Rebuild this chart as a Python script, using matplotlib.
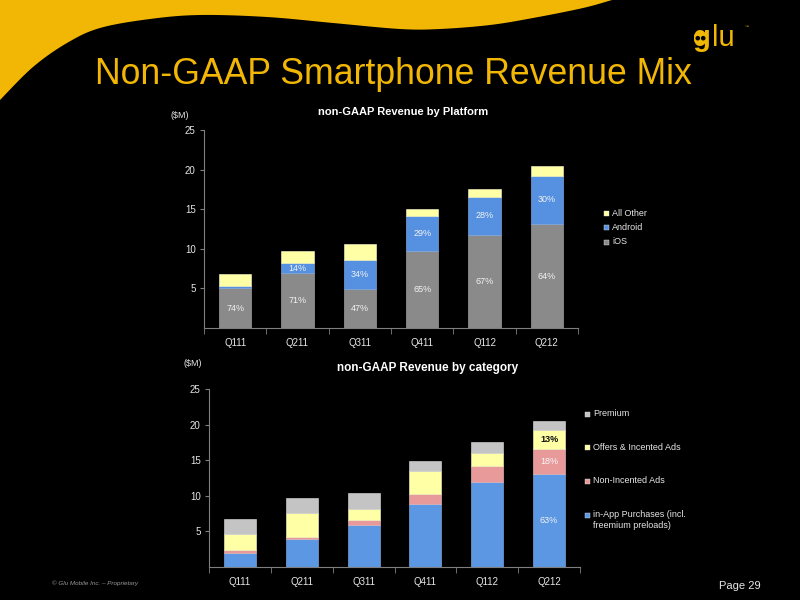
import numpy as np
import matplotlib
matplotlib.use("Agg")
import matplotlib.pyplot as plt
from matplotlib.patches import Rectangle, Polygon, Circle, FancyBboxPatch

plt.rcParams['font.family'] = ['Liberation Sans', 'DejaVu Sans']

# ---------------- data ----------------
quarters = ["Q111", "Q211", "Q311", "Q411", "Q112", "Q212"]

# Platform chart ($M)
ios = [5.0, 6.9, 4.95, 9.75, 11.7, 13.1]
android = [0.3, 1.35, 3.6, 4.35, 4.9, 6.15]
all_other = [1.5, 1.45, 2.05, 0.9, 0.9, 1.25]
ios_pct = ["74%", "71%", "47%", "65%", "67%", "64%"]
android_pct = ["", "14%", "34%", "29%", "28%", "30%"]

# Category chart ($M)
in_app = [2.0, 4.0, 5.95, 8.85, 11.9, 13.0]
non_incented = [0.35, 0.15, 0.65, 1.4, 2.3, 3.6]
offers = [2.35, 3.5, 1.55, 3.2, 1.75, 2.65]
premium = [2.0, 2.0, 2.3, 1.5, 1.55, 1.25]
in_app_pct = ["", "", "", "", "", "63%"]
non_inc_pct = ["", "", "", "", "", "18%"]
offers_pct = ["", "", "", "", "", "13%"]

yticks = [5, 10, 15, 20, 25]

# ---------------- style ----------------
YEL = "#F2B705"
C_IOS = "#8A8A8A"
C_AND = "#5591E0"
C_OTH = "#FFFFA6"
C_IAP = "#5B97E2"
C_NON = "#E89A9A"
C_OFF = "#FFFFA6"
C_PRE = "#C4C4C4"
AXC = "#7F7F7F"
TXT = "#E6E6E6"

W, H = 800, 600
fig = plt.figure(figsize=(8, 6), dpi=100, facecolor="black")

# background swoosh
bg = fig.add_axes([0, 0, 1, 1])
bg.set_xlim(0, W)
bg.set_ylim(H, 0)
bg.axis("off")
bg.set_facecolor("black")
pts = np.array([(0, 100), (33, 67), (67, 43), (100, 28), (150, 19), (200, 15),
                (267, 17), (333, 23), (400, 29), (440, 29), (490, 25), (533, 18),
                (583, 8), (612, 0)], float)
# Catmull-Rom smoothing of boundary
def catmull(p, n=12):
    out = []
    P = np.vstack([p[0], p, p[-1]])
    for i in range(1, len(P) - 2):
        p0, p1, p2, p3 = P[i - 1], P[i], P[i + 1], P[i + 2]
        for t in np.linspace(0, 1, n, endpoint=False):
            t2, t3 = t * t, t * t * t
            out.append(0.5 * ((2 * p1) + (-p0 + p2) * t + (2 * p0 - 5 * p1 + 4 * p2 - p3) * t2
                              + (-p0 + 3 * p1 - 3 * p2 + p3) * t3))
    out.append(p[-1])
    return np.array(out)
curve = catmull(pts)
poly = np.vstack([[(0, 0)], curve, [(612, 0)]])
bg.add_patch(Polygon(poly, closed=True, facecolor=YEL, edgecolor="none"))

# title
bg.text(393, 84, "Non-GAAP Smartphone Revenue Mix", color=YEL, fontsize=25.7,
        ha="center", va="baseline")

# logo
bg.text(693, 46, "g", color=YEL, fontsize=21, fontweight="bold", ha="left",
        va="baseline")
bg.text(712, 46, "lu", color=YEL, fontsize=21, ha="left", va="baseline")
bg.add_patch(FancyBboxPatch((694, 32), 13, 12, boxstyle="round,pad=0,rounding_size=5",
                            facecolor=YEL, edgecolor="none", zorder=5))
bg.add_patch(Circle((697.8, 38.2), 1.6, color="black", zorder=6))
bg.add_patch(Circle((703.2, 38.2), 1.6, color="black", zorder=6))
bg.text(745, 27, "\u2122", color=YEL, fontsize=3, ha="left", va="center")

# footer
bg.text(52, 583, "\u00a9 Glu Mobile Inc. \u2013 Proprietary", color="#9A9A9A",
        fontsize=4.5, style="italic", va="center", ha="left")
bg.text(740, 586, "Page 29", color=TXT, fontsize=8, va="center", ha="center")


def style_axis(ax):
    ax.set_facecolor("none")
    for s in ["top", "right"]:
        ax.spines[s].set_visible(False)
    for s in ["left", "bottom"]:
        ax.spines[s].set_color(AXC)
        ax.spines[s].set_linewidth(0.8)
    ax.set_ylim(0, 25)
    ax.set_xlim(-0.5, len(quarters) - 0.5)
    ax.set_yticks(yticks)
    ax.set_yticklabels([str(v) for v in yticks])
    ax.set_xticks(range(len(quarters)))
    ax.set_xticklabels(quarters)
    ax.set_xticks(np.arange(-0.5, len(quarters), 1.0), minor=True)
    ax.tick_params(axis="x", which="major", length=0, pad=7, labelsize=7, labelcolor=TXT)
    ax.tick_params(axis="x", which="minor", length=4, direction="out", color=AXC)
    ax.tick_params(axis="y", length=3, direction="out", color=AXC, labelsize=7,
                   labelcolor=TXT, pad=3)


def seg_labels(ax, bottoms, heights, labels, color, weight="normal"):
    for i, (b, h, l) in enumerate(zip(bottoms, heights, labels)):
        if l:
            ax.text(i, b + h / 2, l, ha="center", va="center", fontsize=6.5,
                    color=color, fontweight=weight)


x = np.arange(len(quarters))
bw = 0.52

# ---------- top chart ----------
ax1 = fig.add_axes([204 / W, 1 - 328 / H, 374 / W, 198 / H])
style_axis(ax1)
b0 = np.zeros(len(quarters))
ax1.bar(x, ios, bw, bottom=b0, color=C_IOS, edgecolor="#B0B0B0", linewidth=0.4)
b1 = b0 + np.array(ios)
ax1.bar(x, android, bw, bottom=b1, color=C_AND, edgecolor="#8DB8F0", linewidth=0.4)
b2 = b1 + np.array(android)
ax1.bar(x, all_other, bw, bottom=b2, color=C_OTH, edgecolor="#FFFFD0", linewidth=0.4)
seg_labels(ax1, b0, ios, ios_pct, "#F2F2F2")
seg_labels(ax1, b1, android, android_pct, "#F2F2F2")

fig.text(403 / W, 1 - 112 / H, "non-GAAP Revenue by Platform", color="white",
         fontsize=8, fontweight="bold", ha="center", va="center")
fig.text(180 / W, 1 - 115 / H, "($M)", color=TXT, fontsize=6.5, ha="center", va="center")

# top legend (manual)
leg1 = [("All Other", C_OTH), ("Android", C_AND), ("iOS", C_IOS)]
for k, (lab, col) in enumerate(leg1):
    yy = 213 + k * 14.5
    bg.add_patch(Rectangle((604, yy - 2.5), 5, 5, facecolor=col, edgecolor="#DDDDDD",
                           linewidth=0.3))
    bg.text(612, yy, lab, color=TXT, fontsize=6.5, va="center", ha="left")

# ---------- bottom chart ----------
ax2 = fig.add_axes([209 / W, 1 - 567 / H, 371 / W, 178 / H])
style_axis(ax2)
c0 = np.zeros(len(quarters))
ax2.bar(x, in_app, bw, bottom=c0, color=C_IAP, edgecolor="#8DB8F0", linewidth=0.4)
c1 = c0 + np.array(in_app)
ax2.bar(x, non_incented, bw, bottom=c1, color=C_NON, edgecolor="#F5C8C8", linewidth=0.4)
c2 = c1 + np.array(non_incented)
ax2.bar(x, offers, bw, bottom=c2, color=C_OFF, edgecolor="#FFFFD0", linewidth=0.4)
c3 = c2 + np.array(offers)
ax2.bar(x, premium, bw, bottom=c3, color=C_PRE, edgecolor="#E0E0E0", linewidth=0.4)
seg_labels(ax2, c0, in_app, in_app_pct, "#F2F2F2")
seg_labels(ax2, c1, non_incented, non_inc_pct, "#F8F8F8")
seg_labels(ax2, c2, offers, offers_pct, "#111111", weight="bold")

fig.text(428 / W, 1 - 368 / H, "non-GAAP Revenue by category", color="white",
         fontsize=8.5, fontweight="bold", ha="center", va="center")
fig.text(193 / W, 1 - 363 / H, "($M)", color=TXT, fontsize=6.5, ha="center", va="center")

leg2 = [("Premium", C_PRE), ("Offers & Incented Ads", C_OFF),
        ("Non-Incented Ads", C_NON), ("in-App Purchases (incl.\nfreemium preloads)", C_IAP)]
for k, (lab, col) in enumerate(leg2):
    yy = 414 + k * 33.7
    bg.add_patch(Rectangle((585, yy - 2.5), 5, 5, facecolor=col, edgecolor="#DDDDDD",
                           linewidth=0.3))
    bg.text(593, yy - 5, lab, color=TXT, fontsize=6.5, va="top", ha="left",
            linespacing=1.25)

fig.savefig("out.png", dpi=100, facecolor="black")
